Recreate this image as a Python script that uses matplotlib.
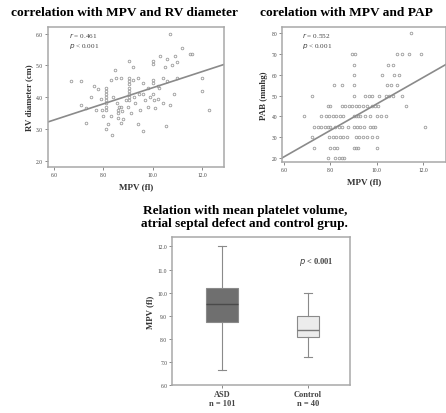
import matplotlib.pyplot as plt
import numpy as np

plt.rcParams['font.family'] = ['Liberation Serif', 'DejaVu Serif']

# --- correlation MPV vs RV diameter ---
rv_mpv = [6.7, 7.1, 7.1, 7.3, 7.3, 7.5, 7.6, 7.8, 7.9, 7.95, 8.0,
          8.1, 8.1, 8.1, 8.1, 8.1, 8.1, 8.1, 8.1, 8.1,
          8.2, 8.3, 8.35, 8.45, 8.5, 8.55, 8.6, 8.6, 8.6, 8.65, 8.7, 8.7, 8.75, 8.8, 8.7,
          9.05, 9.05, 9.05, 9.05, 9.05, 9.05, 9.05, 9.05, 9.05,
          9.0, 9.1, 9.2, 9.2, 9.25, 9.3, 9.4, 9.45, 9.5, 9.6, 9.6, 9.7, 9.8, 9.8,
          10.0, 10.0, 10.0, 10.0, 10.05, 10.1, 10.0, 10.2, 10.25, 10.3, 10.4, 10.5,
          10.55, 10.6, 10.6, 10.7, 10.7, 10.8, 10.85, 10.9, 11.0, 11.0, 11.2, 11.5,
          11.6, 12.0, 12.0, 12.3, 7.7, 8.9, 9.4, 9.6, 10.2, 10.4, 8.4, 8.3, 9.9]
rv_diam = [4.5, 4.5, 3.75, 3.65, 3.2, 4.0, 4.35, 4.25, 3.95, 3.6, 3.4,
           4.3, 4.2, 4.1, 4.0, 3.9, 3.8, 3.7, 3.6, 3.0,
           3.15, 4.55, 2.8, 4.85, 4.6, 3.8, 3.6, 3.5, 3.35, 3.7, 3.7, 4.6, 3.55, 3.3, 3.2,
           5.15, 4.6, 4.5, 4.4, 4.3, 4.2, 4.1, 4.0, 3.9,
           3.7, 3.5, 4.95, 4.55, 4.0, 3.8, 3.15, 4.1, 3.6, 4.45, 2.95, 3.9, 4.3, 3.7,
           5.15, 5.05, 4.55, 4.45, 3.9, 3.65, 4.1, 4.35, 4.3, 5.3, 3.8, 4.95,
           3.1, 4.5, 5.2, 6.0, 3.75, 5.0, 4.1, 5.3, 5.1, 4.6, 5.55, 5.35,
           5.35, 4.6, 4.2, 3.6, 3.6, 3.9, 4.6, 4.1, 3.95, 4.6, 4.0, 3.4, 4.0]
rv_fit = (1.765, 0.253)  # intercept, slope

# --- correlation MPV vs PAP (MPV values at each PAB level) ---
pab_levels = [80, 70, 65, 60, 55, 50, 45, 40, 35, 30, 25, 20]
pab_mpv_rows = [
    [11.5],
    [8.95, 9.05, 10.9, 11.1, 11.4, 11.9],
    [9.0, 10.5, 10.7],
    [9.0, 10.25, 10.75, 10.95],
    [8.15, 8.5, 9.0, 10.45, 10.6, 10.9],
    [7.2, 9.0, 9.5, 9.65, 9.8, 10.1, 10.4, 10.55, 10.7, 11.1],
    [7.9, 8.0, 8.5, 8.65, 8.8, 8.95, 9.1, 9.25, 9.4, 9.6, 9.8, 9.95, 10.05, 11.25],
    [6.85, 7.6, 7.8, 7.95, 8.1, 8.25, 8.4, 8.55, 9.0, 9.1, 9.2, 9.3, 9.5, 9.7, 10.0, 10.2, 10.4],
    [7.3, 7.45, 7.6, 7.75, 7.9, 8.0, 8.2, 8.35, 8.5, 8.75, 9.0, 9.15, 9.3, 9.45, 9.7, 9.85, 9.95, 12.1],
    [7.2, 7.95, 8.1, 8.25, 8.4, 8.55, 8.7, 9.1, 9.25, 9.4, 9.6, 9.8, 10.0],
    [7.3, 8.0, 8.15, 8.3, 9.0, 9.1, 9.2, 10.0],
    [7.9, 8.2, 8.35, 8.5, 8.6],
]
pab_fit = (-17.5, 6.35)

# --- box plot ASD vs control ---
groups = ['ASD\nn = 101', 'Control\nn = 40']
box_low = [6.65, 7.2]
box_q1 = [8.75, 8.1]
box_med = [9.5, 8.4]
box_q3 = [10.2, 9.0]
box_high = [12.0, 10.0]
box_colors = ['#6f6f6f', '#ececec']
median_colors = ['#4a4a4a', '#7a7a7a']

frame_col = '#a8a8a8'
pt_col = '#9a9a9a'
line_col = '#8a8a8a'


def style_axes(ax):
    for s in ax.spines.values():
        s.set_color(frame_col)
        s.set_linewidth(1.1)
    ax.tick_params(length=2, width=0.6, color='#777777', labelsize=4,
                   labelcolor='#444444', pad=1.5)


fig = plt.figure(figsize=(4.46, 4.14), dpi=100)

# panel 1
ax1 = fig.add_axes([0.1076, 0.594, 0.395, 0.338])
ax1.plot(rv_mpv, rv_diam, 'o', ms=1.9, mfc='none', mec=pt_col, mew=0.6)
xs = np.array([5.75, 12.9])
ax1.plot(xs, rv_fit[0] + rv_fit[1] * xs, color=line_col, lw=1.2)
ax1.set_xlim(5.75, 12.9)
ax1.set_ylim(1.8, 6.2)
ax1.set_xticks([6, 8, 10, 12])
ax1.set_xticklabels(['6.0', '8.0', '10.0', '12.0'])
ax1.set_yticks([2, 3, 4, 5, 6])
ax1.set_yticklabels(['2.0', '3.0', '4.0', '5.0', '6.0'])
ax1.set_xlabel('MPV (fl)', fontsize=6.5, fontweight='bold', color='#333333', labelpad=4)
ax1.set_ylabel('RV diameter (cm)', fontsize=6.3, fontweight='bold', color='#333333', labelpad=2)
ax1.text(0.12, 0.98, '$r$ = 0.461\n$p$ < 0.001', transform=ax1.transAxes, va='top',
         fontsize=5.2, color='#444444', linespacing=1.3)
style_axes(ax1)

# panel 2
ax2 = fig.add_axes([0.632, 0.606, 0.368, 0.326])
for lvl, row in zip(pab_levels, pab_mpv_rows):
    ax2.plot(row, [lvl] * len(row), 'o', ms=1.9, mfc='none', mec=pt_col, mew=0.6)
xs = np.array([5.9, 13.0])
ax2.plot(xs, pab_fit[0] + pab_fit[1] * xs, color=line_col, lw=1.2)
ax2.set_xlim(5.9, 13.0)
ax2.set_ylim(18, 83)
ax2.set_xticks([6, 8, 10, 12])
ax2.set_xticklabels(['6.0', '8.0', '10.0', '12.0'])
ax2.set_yticks([20, 30, 40, 50, 60, 70, 80])
ax2.set_xlabel('MPV (fl)', fontsize=6.5, fontweight='bold', color='#333333', labelpad=4)
ax2.set_ylabel('PAB (mmhg)', fontsize=6.3, fontweight='bold', color='#333333', labelpad=2)
ax2.text(0.12, 0.98, '$r$ = 0.552\n$p$ < 0.001', transform=ax2.transAxes, va='top',
         fontsize=5.2, color='#444444', linespacing=1.3)
style_axes(ax2)

# panel 3
ax3 = fig.add_axes([0.386, 0.0676, 0.399, 0.357])
stats = []
for i in range(2):
    stats.append(dict(whislo=box_low[i], q1=box_q1[i], med=box_med[i],
                      q3=box_q3[i], whishi=box_high[i], fliers=[]))
bp = ax3.bxp(stats, positions=[1, 2], widths=[0.37, 0.25], patch_artist=True,
             capwidths=[0.09, 0.09])
for i, b in enumerate(bp['boxes']):
    b.set_facecolor(box_colors[i])
    b.set_edgecolor('#8a8a8a')
    b.set_linewidth(0.8)
for i, m in enumerate(bp['medians']):
    m.set_color(median_colors[i])
    m.set_linewidth(1.0)
for w in bp['whiskers'] + bp['caps']:
    w.set_color('#8a8a8a')
    w.set_linewidth(0.8)
ax3.set_xlim(0.419, 2.489)
ax3.set_ylim(6.0, 12.4)
ax3.set_yticks([6, 7, 8, 9, 10, 11, 12])
ax3.set_yticklabels(['6.0', '7.0', '8.0', '9.0', '10.0', '11.0', '12.0'])
ax3.set_xticks([1, 2])
ax3.set_xticklabels(groups)
ax3.set_ylabel('MPV (fl)', fontsize=6.3, fontweight='bold', color='#333333', labelpad=2)
ax3.text(2.1, 11.3, '$p$ < 0.001', ha='center', fontsize=6, fontweight='bold', color='#444444')
style_axes(ax3)
for lbl in ax3.get_xticklabels():
    lbl.set_fontsize(6)
    lbl.set_fontweight('bold')
    lbl.set_color('#444444')

# titles
fig.text(0.280, 0.969, 'correlation with MPV and RV diameter', ha='center', va='center',
         fontsize=9.6, fontweight='bold')
fig.text(0.777, 0.969, 'corelation with MPV and PAP', ha='center', va='center',
         fontsize=9.6, fontweight='bold')
fig.text(0.549, 0.474, 'Relation with mean platelet volume,\natrial septal defect and control grup.',
         ha='center', va='center', fontsize=9.5, fontweight='bold', linespacing=1.1)

fig.savefig('out.png', dpi=100)
